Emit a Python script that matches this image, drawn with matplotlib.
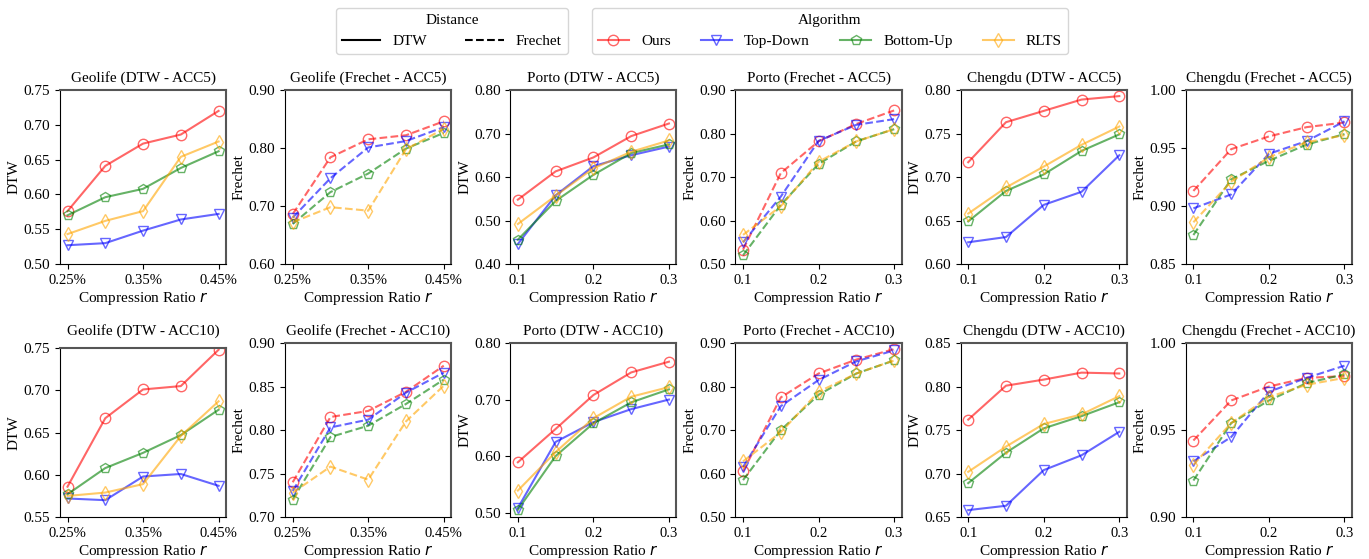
import numpy as np
import matplotlib
matplotlib.use("Agg")
import matplotlib.pyplot as plt
from matplotlib.lines import Line2D

plt.rcParams['font.family'] = ['Liberation Serif', 'DejaVu Serif']
plt.rcParams['mathtext.fontset'] = 'dejavusans'

# x values
geo_x = [0.25, 0.30, 0.35, 0.40, 0.45]
geo_ticks = [0.25, 0.35, 0.45]
geo_ticklabels = ['0.25%', '0.35%', '0.45%']
city_x = [0.1, 0.15, 0.2, 0.25, 0.3]
city_ticks = [0.1, 0.2, 0.3]
city_ticklabels = ['0.1', '0.2', '0.3']

algorithms = ['Ours', 'Top-Down', 'Bottom-Up', 'RLTS']

# each panel: rows in order Ours, Top-Down, Bottom-Up, RLTS
geolife_dtw_acc5 = [[0.576, 0.641, 0.673, 0.686, 0.720],
                    [0.527, 0.530, 0.548, 0.564, 0.572],
                    [0.570, 0.596, 0.608, 0.638, 0.662],
                    [0.543, 0.562, 0.576, 0.654, 0.676]]
geolife_fre_acc5 = [[0.686, 0.784, 0.815, 0.822, 0.846],
                    [0.680, 0.748, 0.801, 0.812, 0.836],
                    [0.669, 0.724, 0.756, 0.799, 0.826],
                    [0.672, 0.698, 0.692, 0.798, 0.833]]
porto_dtw_acc5 = [[0.548, 0.613, 0.645, 0.694, 0.723],
                  [0.446, 0.558, 0.625, 0.650, 0.670],
                  [0.456, 0.545, 0.605, 0.655, 0.675],
                  [0.492, 0.557, 0.620, 0.658, 0.684]]
porto_fre_acc5 = [[0.533, 0.709, 0.782, 0.822, 0.853],
                  [0.550, 0.655, 0.783, 0.820, 0.833],
                  [0.520, 0.636, 0.730, 0.782, 0.810],
                  [0.567, 0.633, 0.735, 0.782, 0.810]]
chengdu_dtw_acc5 = [[0.717, 0.763, 0.776, 0.789, 0.793],
                    [0.625, 0.631, 0.668, 0.683, 0.725],
                    [0.649, 0.684, 0.703, 0.730, 0.749],
                    [0.658, 0.688, 0.712, 0.737, 0.758]]
chengdu_fre_acc5 = [[0.913, 0.949, 0.960, 0.968, 0.972],
                    [0.898, 0.910, 0.945, 0.956, 0.973],
                    [0.875, 0.923, 0.939, 0.953, 0.962],
                    [0.886, 0.921, 0.942, 0.955, 0.961]]
geolife_dtw_acc10 = [[0.586, 0.667, 0.701, 0.705, 0.748],
                     [0.572, 0.570, 0.598, 0.601, 0.587],
                     [0.577, 0.608, 0.626, 0.647, 0.677],
                     [0.575, 0.579, 0.589, 0.646, 0.687]]
geolife_fre_acc10 = [[0.740, 0.815, 0.822, 0.844, 0.874],
                     [0.730, 0.803, 0.812, 0.843, 0.866],
                     [0.720, 0.792, 0.805, 0.830, 0.858],
                     [0.728, 0.758, 0.743, 0.810, 0.851]]
porto_dtw_acc10 = [[0.589, 0.648, 0.708, 0.748, 0.767],
                   [0.508, 0.625, 0.660, 0.683, 0.700],
                   [0.505, 0.600, 0.658, 0.695, 0.718],
                   [0.539, 0.607, 0.667, 0.705, 0.722]]
porto_fre_acc10 = [[0.605, 0.775, 0.830, 0.862, 0.886],
                   [0.615, 0.755, 0.815, 0.858, 0.883],
                   [0.585, 0.700, 0.781, 0.830, 0.860],
                   [0.628, 0.695, 0.788, 0.830, 0.860]]
chengdu_dtw_acc10 = [[0.762, 0.801, 0.808, 0.816, 0.815],
                     [0.658, 0.663, 0.704, 0.721, 0.748],
                     [0.689, 0.724, 0.752, 0.766, 0.782],
                     [0.702, 0.731, 0.757, 0.768, 0.789]]
chengdu_fre_acc10 = [[0.944, 0.967, 0.975, 0.980, 0.981],
                     [0.932, 0.946, 0.972, 0.980, 0.987],
                     [0.921, 0.954, 0.967, 0.977, 0.982],
                     [0.930, 0.954, 0.969, 0.976, 0.980]]

colors = ['red', 'blue', 'green', 'orange']
markers = ['o', 'v', 'p', 'd']

# (title, data, metric, dataset kind, ylim, ytick step)
panels = [
    ('Geolife (DTW - ACC5)', geolife_dtw_acc5, 'DTW', 'geo', (0.50, 0.75), 0.05),
    ('Geolife (Frechet - ACC5)', geolife_fre_acc5, 'Frechet', 'geo', (0.60, 0.90), 0.10),
    ('Porto (DTW - ACC5)', porto_dtw_acc5, 'DTW', 'city', (0.40, 0.80), 0.10),
    ('Porto (Frechet - ACC5)', porto_fre_acc5, 'Frechet', 'city', (0.50, 0.90), 0.10),
    ('Chengdu (DTW - ACC5)', chengdu_dtw_acc5, 'DTW', 'city', (0.60, 0.80), 0.05),
    ('Chengdu (Frechet - ACC5)', chengdu_fre_acc5, 'Frechet', 'city', (0.85, 1.00), 0.05),
    ('Geolife (DTW - ACC10)', geolife_dtw_acc10, 'DTW', 'geo', (0.55, 0.75), 0.05),
    ('Geolife (Frechet - ACC10)', geolife_fre_acc10, 'Frechet', 'geo', (0.70, 0.90), 0.05),
    ('Porto (DTW - ACC10)', porto_dtw_acc10, 'DTW', 'city', (0.492, 0.80), 0.10),
    ('Porto (Frechet - ACC10)', porto_fre_acc10, 'Frechet', 'city', (0.50, 0.90), 0.10),
    ('Chengdu (DTW - ACC10)', chengdu_dtw_acc10, 'DTW', 'city', (0.65, 0.85), 0.05),
    ('Chengdu (Frechet - ACC10)', chengdu_fre_acc10, 'Frechet', 'city', (0.90, 1.00), 0.05),
]

fig, axes = plt.subplots(2, 6, figsize=(13.69, 5.59), dpi=100)
fig.subplots_adjust(left=0.0438, right=0.9876, top=0.839, bottom=0.075,
                    wspace=0.355, hspace=0.454)

# the Geolife DTW ACC10 panel is a little shorter in the original
pos = axes[1, 0].get_position()
shrink = 5 / 559
axes[1, 0].set_position([pos.x0, pos.y0, pos.width, pos.height - shrink])

for i, (ax, (title, data, metric, kind, ylim, step)) in enumerate(zip(axes.flat, panels)):
    x = geo_x if kind == 'geo' else city_x
    ls = '-' if metric == 'DTW' else '--'
    for vals, c, m in zip(data, colors, markers):
        ax.plot(x, vals, color=c, linestyle=ls, linewidth=1.5, alpha=0.6,
                marker=m, markersize=7.5, markerfacecolor='none',
                markeredgecolor=c, markeredgewidth=1.0)
    if kind == 'geo':
        ax.set_xticks(geo_ticks)
        ax.set_xticklabels(geo_ticklabels)
    else:
        ax.set_xticks(city_ticks)
        ax.set_xticklabels(city_ticklabels)
    ax.set_ylim(*ylim)
    lo = np.ceil(ylim[0] / step - 1e-6) * step
    yt = np.arange(lo, ylim[1] + 1e-9, step)
    ax.set_yticks(yt)
    ax.set_yticklabels([f'{v:.2f}' for v in yt])
    ax.tick_params(axis='y', labelsize=11)
    ax.tick_params(axis='x', labelsize=10.5)
    if i == 6:
        ax.set_title(title, fontsize=11, y=1.0 + 5 / 169)
    else:
        ax.set_title(title, fontsize=11)
    ax.set_ylabel(metric, fontsize=11, labelpad=2)
    ax.set_xlabel('Compression Ratio $r$', fontsize=11, labelpad=2)
    for side in ['top', 'right']:
        ax.spines[side].set_color('#555555')
        ax.spines[side].set_linewidth(1.5)

# legends on top
dist_handles = [Line2D([], [], color='black', linestyle='-', linewidth=1.5),
                Line2D([], [], color='black', linestyle='--', linewidth=1.5)]
fig.legend(dist_handles, ['DTW', 'Frechet'], title='Distance', ncol=2,
           loc='center', bbox_to_anchor=(452 / 1369, 1 - 31 / 559),
           fontsize=11, title_fontsize=11, handlelength=2.5, columnspacing=2.5)

alg_handles = [Line2D([], [], color=c, linewidth=1.5, alpha=0.6, marker=m,
                      markersize=7.5, markerfacecolor='none', markeredgecolor=c)
               for c, m in zip(colors, markers)]
fig.legend(alg_handles, algorithms, title='Algorithm', ncol=4,
           loc='center', bbox_to_anchor=(830 / 1369, 1 - 31 / 559),
           fontsize=11, title_fontsize=11)

fig.savefig('out.png', dpi=100)
